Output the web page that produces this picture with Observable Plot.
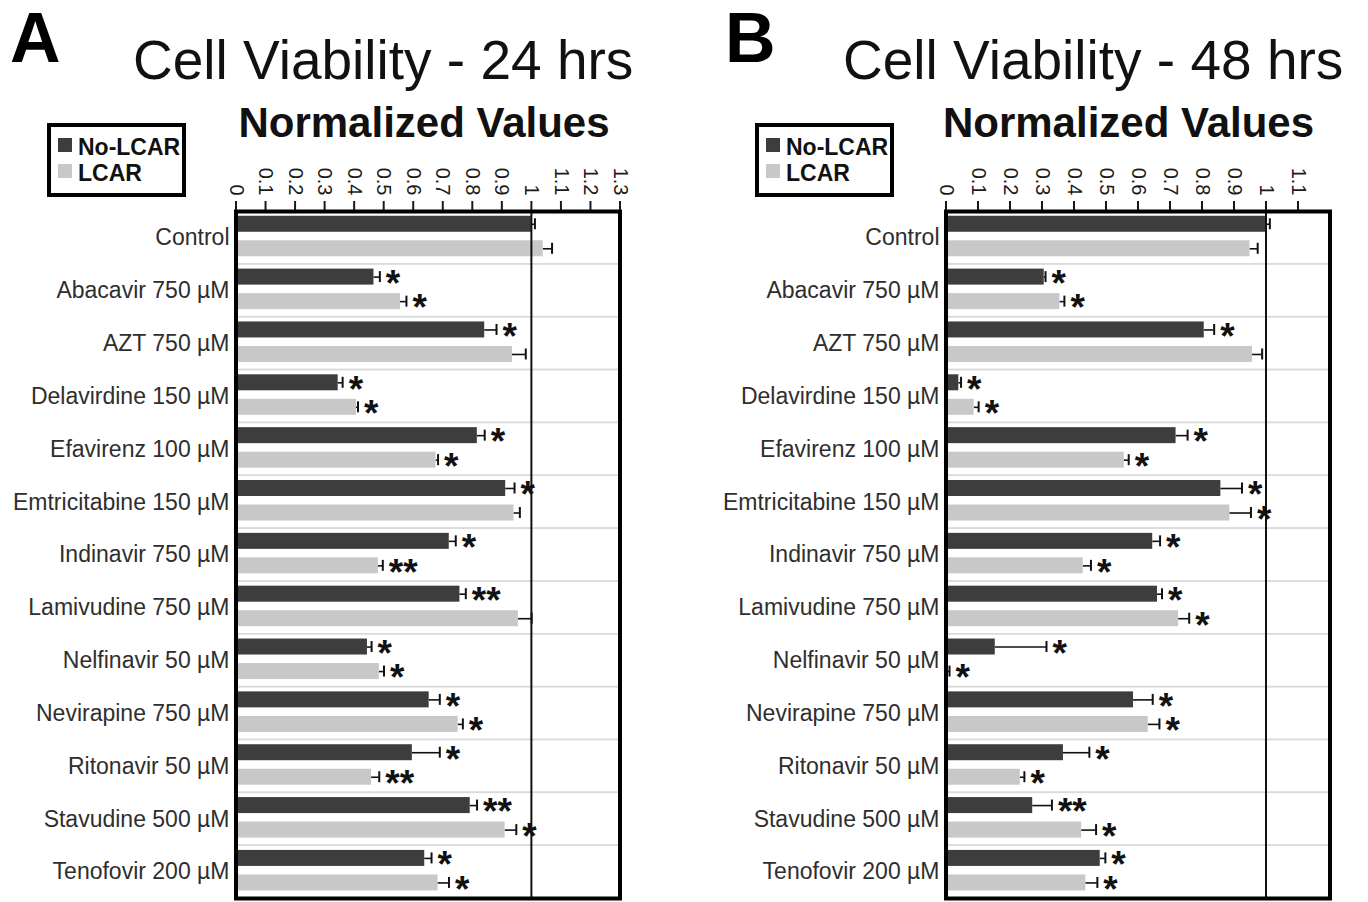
<!DOCTYPE html>
<html><head><meta charset="utf-8">
<script src="https://cdn.jsdelivr.net/npm/d3@7"></script>
<script src="https://cdn.jsdelivr.net/npm/@observablehq/plot@0.6"></script>
<style>
body{margin:0;background:#fff;}
#wrap{position:relative;width:1368px;height:902px;overflow:hidden;font-family:"Liberation Sans",Arial,sans-serif;background:#fff;}
.abs{position:absolute;white-space:nowrap;line-height:1;color:#111;}
.panel{position:absolute;top:0;line-height:0;}
.legend{position:absolute;border:4px solid #000;box-sizing:border-box;background:#fff;}
.sw{position:absolute;width:14px;height:14px;}
.lt{position:absolute;font-weight:bold;font-size:23px;line-height:1;color:#111;white-space:nowrap;}
</style></head><body><div id="wrap"></div>
<script>
// ---- data ----
const categories = ["Control","Abacavir 750 µM","AZT 750 µM","Delavirdine 150 µM","Efavirenz 100 µM","Emtricitabine 150 µM","Indinavir 750 µM","Lamivudine 750 µM","Nelfinavir 50 µM","Nevirapine 750 µM","Ritonavir 50 µM","Stavudine 500 µM","Tenofovir 200 µM"];
const seriesNames = ["No-LCAR","LCAR"];
const seriesColors = ["#3d3d3d","#c8c8c8"];

const noLcar24    = [1.0, 0.467, 0.842, 0.346, 0.817, 0.913, 0.722, 0.758, 0.445, 0.654, 0.597, 0.793, 0.639];
const noLcar24Err = [0.012, 0.02, 0.04, 0.015, 0.025, 0.03, 0.022, 0.02, 0.014, 0.036, 0.093, 0.023, 0.023];
const noLcar24Sig = ["", "*", "*", "*", "*", "*", "*", "**", "*", "*", "*", "**", "*"];
const lcar24      = [1.04, 0.557, 0.936, 0.408, 0.677, 0.941, 0.482, 0.956, 0.485, 0.752, 0.459, 0.911, 0.684];
const lcar24Err   = [0.03, 0.02, 0.045, 0.005, 0.007, 0.02, 0.015, 0.045, 0.016, 0.016, 0.026, 0.038, 0.037];
const lcar24Sig   = ["", "*", "", "*", "*", "", "**", "", "*", "*", "**", "*", "*"];

const noLcar48    = [1.0, 0.307, 0.807, 0.04, 0.719, 0.859, 0.646, 0.661, 0.154, 0.586, 0.367, 0.271, 0.482];
const noLcar48Err = [0.012, 0.004, 0.031, 0.007, 0.036, 0.066, 0.023, 0.014, 0.16, 0.06, 0.081, 0.06, 0.016];
const noLcar48Sig = ["", "*", "*", "*", "*", "*", "*", "*", "*", "*", "*", "**", "*"];
const lcar48      = [0.95, 0.356, 0.958, 0.088, 0.557, 0.887, 0.429, 0.727, 0.003, 0.632, 0.232, 0.424, 0.437];
const lcar48Err   = [0.024, 0.014, 0.03, 0.014, 0.014, 0.066, 0.024, 0.033, 0.008, 0.035, 0.013, 0.045, 0.036];
const lcar48Sig   = ["", "*", "", "*", "*", "*", "*", "*", "*", "*", "*", "*", "*"];

const ticks24 = [0,0.1,0.2,0.3,0.4,0.5,0.6,0.7,0.8,0.9,1,1.1,1.2,1.3];
const ticks48 = [0,0.1,0.2,0.3,0.4,0.5,0.6,0.7,0.8,0.9,1,1.1];

const panels = [
  {letter:"A", title:"Cell Viability - 24 hrs", left:0, xmax:1.3, ticks:ticks24, ml:235.5, mr:64.5,
   vals:[noLcar24, lcar24], errs:[noLcar24Err, lcar24Err], sigs:[noLcar24Sig, lcar24Sig],
   letterX:10, titleX:133, nvX:424, legX:47},
  {letter:"B", title:"Cell Viability - 48 hrs", left:684, xmax:1.2, ticks:ticks48, ml:261.5, mr:38.5,
   vals:[noLcar48, lcar48], errs:[noLcar48Err, lcar48Err], sigs:[noLcar48Sig, lcar48Sig],
   letterX:725, titleX:843, nvX:1128.5, legX:755}
];

const W = 684, H = 902, MT = 211, MB = 4;
const wrap = document.getElementById("wrap");
const font = '"Liberation Sans", Arial, sans-serif';

function makeRows(p, s) {
  return categories.map((c, i) => ({category: c, series: seriesNames[s], value: p.vals[s][i], err: p.errs[s][i], sig: p.sigs[s][i]}));
}

for (const p of panels) {
  const bw = (H - MT - MB) / categories.length;
  const centers = [0.2415 * bw, 0.7055 * bw]; // bar centers inside each band
  const half = 8, capHalf = 5.5;
  const marks = [
    Plot.barX(categories, {x1: 0, x2: p.xmax, y: d => d, fill: "none", stroke: "#dadada", strokeWidth: 1.5})
  ];
  [0, 1].forEach(s => {
    const rows = makeRows(p, s);
    const c = centers[s];
    marks.push(
      Plot.ruleY(rows, {y: "category", x1: "value", x2: d => d.value + d.err, dy: c - bw / 2, stroke: "#111", strokeWidth: 1.6}),
      Plot.tickX(rows, {x: d => d.value + d.err, y: "category", insetTop: c - capHalf, insetBottom: bw - c - capHalf, stroke: "#111", strokeWidth: 2}),
      Plot.barX(rows, {x: "value", y: "category", fill: seriesColors[s], insetTop: c - half, insetBottom: bw - c - half}),
      Plot.text(rows, {x: d => d.value + d.err, y: "category", text: "sig", textAnchor: "start", dx: 6, dy: c - bw / 2 + 7, fontSize: 37, fontWeight: "bold", fill: "#111"})
    );
  });
  marks.push(
    Plot.ruleX([1], {stroke: "#111", strokeWidth: 2}),
    Plot.axisX({anchor: "top", ticks: p.ticks, tickFormat: d => String(+d.toFixed(1)), tickRotate: 90, tickSize: 11, tickPadding: 5, fontSize: 20, strokeWidth: 2, label: null, color: "#1a1a1a"}),
    Plot.axisY({anchor: "left", tickSize: 0, tickPadding: 6.5, fontSize: 23, label: null, color: "#2e2e2e"}),
    Plot.frame({stroke: "#000", strokeWidth: 4})
  );
  const chart = Plot.plot({
    width: W, height: H,
    marginLeft: p.ml, marginRight: p.mr, marginTop: MT, marginBottom: MB,
    x: {domain: [0, p.xmax], label: null},
    y: {domain: categories, padding: 0, round: false, label: null},
    style: {fontFamily: font, background: "transparent", overflow: "visible"},
    marks
  });
  const div = document.createElement("div");
  div.className = "panel";
  div.style.left = p.left + "px";
  div.appendChild(chart);
  wrap.appendChild(div);

  // overlays
  const letter = document.createElement("div");
  letter.className = "abs";
  letter.textContent = p.letter;
  Object.assign(letter.style, {left: p.letterX + "px", top: (62 - 0.8465 * 70) + "px", fontSize: "70px", fontWeight: "bold", color: "#000"});
  wrap.appendChild(letter);

  const title = document.createElement("div");
  title.className = "abs";
  title.textContent = p.title;
  Object.assign(title.style, {left: p.titleX + "px", top: (80 - 0.8465 * 55) + "px", fontSize: "55px", color: "#111"});
  wrap.appendChild(title);

  const nv = document.createElement("div");
  nv.className = "abs";
  nv.textContent = "Normalized Values";
  Object.assign(nv.style, {left: p.nvX + "px", top: (138 - 0.8465 * 42) + "px", fontSize: "42px", fontWeight: "bold", transform: "translateX(-50%)", color: "#111"});
  wrap.appendChild(nv);

  const leg = document.createElement("div");
  leg.className = "legend";
  Object.assign(leg.style, {left: p.legX + "px", top: "123px", width: "139px", height: "74px"});
  seriesNames.forEach((n, s) => {
    const sw = document.createElement("div");
    sw.className = "sw";
    Object.assign(sw.style, {left: "7px", top: (11 + s * 26) + "px", background: seriesColors[s]});
    leg.appendChild(sw);
    const t = document.createElement("div");
    t.className = "lt";
    t.textContent = n;
    Object.assign(t.style, {left: "27px", top: (8.5 + s * 26) + "px"});
    leg.appendChild(t);
  });
  wrap.appendChild(leg);
}
</script></body></html>
